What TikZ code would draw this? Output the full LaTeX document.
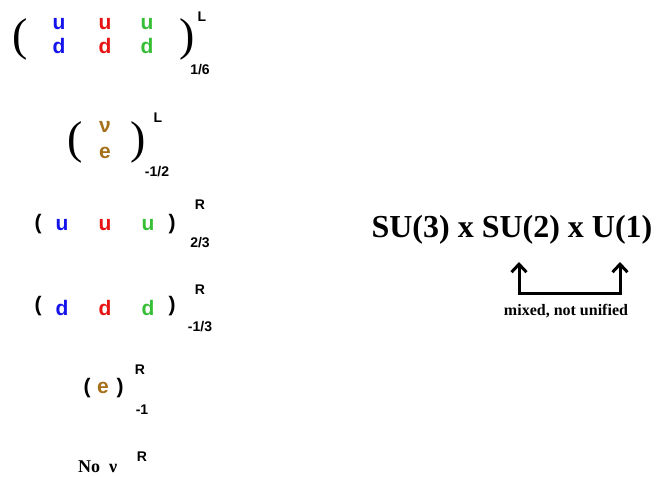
\documentclass[tikz,border=0pt]{standalone}
\usepackage{fontspec}
\setmainfont{Liberation Serif}
\newfontfamily\hv{Liberation Sans}
\usetikzlibrary{arrows.meta}
\definecolor{qb}{RGB}{20,20,235}
\definecolor{qr}{RGB}{230,20,20}
\definecolor{qg}{RGB}{55,190,55}
\definecolor{qe}{RGB}{165,112,25}
\begin{document}
\begin{tikzpicture}[x=1pt,y=-1pt,
  q/.style={font=\hv\bfseries\fontsize{21}{21}\selectfont, inner sep=0pt},
  sc/.style={font=\hv\bfseries\fontsize{14}{14}\selectfont, inner sep=0pt},
  bp/.style={font=\fontsize{46}{46}\selectfont, inner sep=0pt},
  grp/.style={font=\bfseries\fontsize{32}{32}\selectfont, inner sep=0pt},
  note/.style={font=\bfseries\fontsize{16}{16}\selectfont, inner sep=0pt},
  barb/.tip={Straight Barb[length=8pt,width=15pt,line width=3pt]},
  arr/.style={line width=3pt, barb-barb}]
\path[use as bounding box] (0,0) rectangle (657,477);
\clip (0,0) rectangle (657,477);
% row 1
\node[bp] (p1l) at (20,39) {(};
\node[q,text=qb,anchor=base] (u1b) at (59,29) {u};
\node[q,text=qr,anchor=base] (u1r) at (105,29) {u};
\node[q,text=qg,anchor=base] (u1g) at (147,29) {u};
\node[q,text=qb,anchor=base] (d1b) at (59,53) {d};
\node[q,text=qr,anchor=base] (d1r) at (105,53) {d};
\node[q,text=qg,anchor=base] (d1g) at (147,53) {d};
\node[bp] (p1r) at (187,39) {)};
\node[sc] (L1) at (202,17) {L};
\node[sc] (y1) at (200,70) {1/6};
% row 2
\node[bp] (p2l) at (75,142) {(};
\node[q,text=qe] (nu2) at (105,127) {ν};
\node[q,text=qe] (e2) at (105,153) {e};
\node[bp] (p2r) at (138,142) {)};
\node[sc] (L2) at (158,118) {L};
\node[sc] (y2) at (157,172) {-1/2};
% row 3
\node[q] (p3l) at (38,224) {(};
\node[q,text=qb,anchor=base] (u3b) at (62,230) {u};
\node[q,text=qr,anchor=base] (u3r) at (105,230) {u};
\node[q,text=qg,anchor=base] (u3g) at (148,230) {u};
\node[q] (p3r) at (172,224) {)};
\node[sc] (R3) at (200,205) {R};
\node[sc] (y3) at (200,243) {2/3};
% row 4
\node[q] (p4l) at (38,306) {(};
\node[q,text=qb,anchor=base] (d4b) at (62,315) {d};
\node[q,text=qr,anchor=base] (d4r) at (105,315) {d};
\node[q,text=qg,anchor=base] (d4g) at (148,315) {d};
\node[q] (p4r) at (172,306) {)};
\node[sc] (R4) at (200,290) {R};
\node[sc] (y4) at (200,327) {-1/3};
% row 5
\node[q] (p5l) at (87,388) {(};
\node[q,text=qe] (e5) at (103,388) {e};
\node[q] (p5r) at (120,388) {)};
\node[sc] (R5) at (140,370) {R};
\node[sc] (y5) at (142,410) {-1};
% row 6
\node[font=\bfseries\fontsize{18}{18}\selectfont, inner sep=0pt, anchor=base west] (nonu) at (78,472) {No\ \ ν};
\node[sc] (R6) at (142,457) {R};
% group
\node[grp,anchor=base] (grp) at (512,237) {SU(3) x SU(2) x U(1)};
\coordinate (la) at (519,262);
\coordinate (lc) at (519,293);
\coordinate (rc) at (620,293);
\coordinate (ra) at (620,262);
\draw[arr] (la) -- (lc) -- (rc) -- (ra);
\node[note,anchor=base] (mx) at (566,315) {mixed, not unified};
\end{tikzpicture}
\end{document}
